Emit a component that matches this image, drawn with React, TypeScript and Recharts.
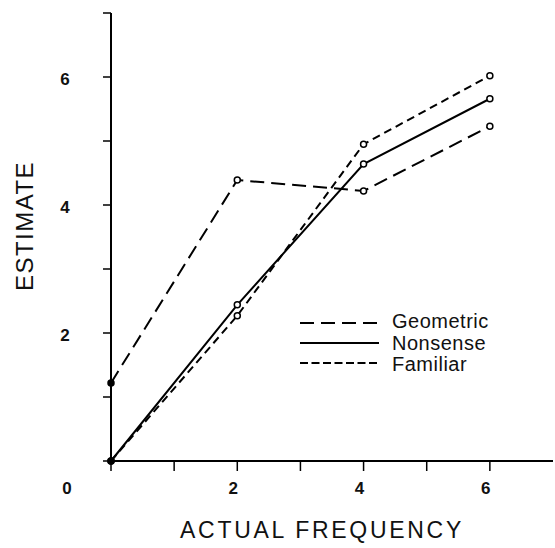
import { LineChart, Line, XAxis, YAxis, Legend } from "recharts";

const frequencies = [0, 2, 4, 6];
const geometric = [1.22, 4.39, 4.22, 5.23];
const nonsense = [0, 2.44, 4.64, 5.66];
const familiar = [0, 2.27, 4.95, 6.02];

const xTicks = [0, 1, 2, 3, 4, 5, 6];
const yTicks = [0, 1, 2, 3, 4, 5, 6, 7];
const labelledTicks = [0, 2, 4, 6];

const SERIES = [
  { key: "geometric", name: "Geometric", dash: "14 7", legendDash: "14 7" },
  { key: "nonsense", name: "Nonsense", dash: undefined, legendDash: undefined },
  { key: "familiar", name: "Familiar", dash: "8 5", legendDash: "8 3.5" },
];

const data = frequencies.map((f, i) => ({
  freq: f,
  geometric: geometric[i],
  nonsense: nonsense[i],
  familiar: familiar[i],
}));

const FONT = "'Liberation Sans', Arial, sans-serif";

function renderDot(props: any) {
  const { cx, cy, index, payload } = props;
  const filled = payload.freq === 0;
  return (
    <circle
      key={`dot-${index}`}
      cx={cx}
      cy={cy}
      r={3}
      fill={filled ? "#000" : "#fff"}
      stroke="#000"
      strokeWidth={1.5}
    />
  );
}

function XTick(props: any) {
  const { x, y, payload } = props;
  if (!labelledTicks.includes(payload.value)) return <g />;
  const dx = payload.value === 0 ? -44 : -4;
  return (
    <text x={x + dx} y={y + 21} textAnchor="middle" fontFamily={FONT} fontWeight="bold" fontSize={17} fill="#111">
      {payload.value}
    </text>
  );
}

function YTick(props: any) {
  const { x, y, payload } = props;
  if (payload.value === 0 || !labelledTicks.includes(payload.value)) return <g />;
  return (
    <text x={x - 36} y={y + 8} textAnchor="middle" fontFamily={FONT} fontWeight="bold" fontSize={17} fill="#111">
      {payload.value}
    </text>
  );
}

function renderLegend() {
  const lineY = [13, 33, 53];
  const textY = [18, 40, 61];
  return (
    <svg width={200} height={70} style={{ display: "block" }}>
      {SERIES.map((s, i) => (
        <g key={s.key}>
          <line x1={0} x2={79} y1={lineY[i]} y2={lineY[i]} stroke="#000" strokeWidth={2} strokeDasharray={s.legendDash} />
          <text x={92} y={textY[i]} fontFamily={FONT} fontSize={20} letterSpacing={0.5} fill="#111">
            {s.name}
          </text>
        </g>
      ))}
    </svg>
  );
}

export default function App() {
  return (
    <div style={{ position: "absolute", left: 0, top: 0, background: "#fff" }}>
      <LineChart width={555} height={548} data={data} margin={{ top: 13, right: 2, left: 0, bottom: 0 }}>
        <XAxis
          dataKey="freq"
          type="number"
          domain={[0, 7]}
          ticks={xTicks}
          height={87}
          stroke="#000"
          strokeWidth={2}
          tickSize={10}
          tickLine={{ stroke: "#000", strokeWidth: 1.5 }}
          tick={XTick}
          label={{
            content: (p: any) => {
              const vb = p.viewBox;
              return (
                <text x={vb.x + vb.width / 2 - 10} y={538} textAnchor="middle" fontFamily={FONT} fontSize={23} letterSpacing={2.7} fill="#111">
                  ACTUAL FREQUENCY
                </text>
              );
            },
          }}
        />
        <YAxis
          type="number"
          domain={[0, 7]}
          ticks={yTicks}
          interval={0}
          width={111}
          stroke="#000"
          strokeWidth={2}
          tickSize={8}
          tickLine={{ stroke: "#000", strokeWidth: 1.5 }}
          tick={YTick}
          label={{
            content: () => (
              <text
                x={33}
                y={226}
                transform="rotate(-90 33 226)"
                textAnchor="middle"
                fontFamily={FONT}
                fontSize={24}
                letterSpacing={1.5}
                fill="#111"
              >
                ESTIMATE
              </text>
            ),
          }}
        />
        <Legend
          layout="vertical"
          align="center"
          verticalAlign="middle"
          content={renderLegend}
          wrapperStyle={{ position: "absolute", left: 300, top: 310, width: 200, height: 70 }}
        />
        {SERIES.map((s) => (
          <Line
            key={s.key}
            type="linear"
            dataKey={s.key}
            name={s.name}
            stroke="#000"
            strokeWidth={2}
            strokeDasharray={s.dash}
            dot={renderDot}
            activeDot={false}
            isAnimationActive={false}
          />
        ))}
      </LineChart>
    </div>
  );
}
